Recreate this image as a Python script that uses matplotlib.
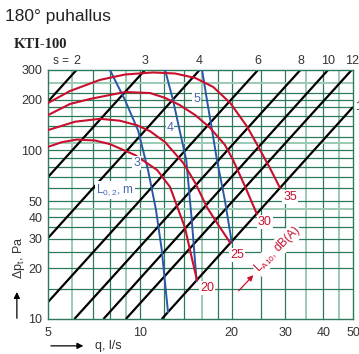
import matplotlib.pyplot as plt
from matplotlib.patches import FancyArrowPatch

plt.rcParams['font.family'] = ['Liberation Sans', 'DejaVu Sans']

# Data
# ===================================
# s lines: straight lines on log-log, given by entry / exit points
S_LABELS = ["2", "3", "4", "6", "8", "10", "12"]
S_Q0 = [5.0, 5.0, 5.0, 5.0, 6.1, 7.6, 9.0, 11.8]
S_P0 = [195, 69.5, 30.2, 12.6, 10, 10, 10, 10]
S_Q1 = [6.2, 10.4, 15.7, 24.4, 33.6, 41.4, 49.5, 50]
S_P1 = [300, 300, 300, 300, 300, 300, 300, 181]

# L_A10 sound level curves, dB(A)
LA_LABELS = ["35", "30", "25", "20"]
LA35_Q = [5.0, 5.90, 7.40, 8.94, 11.05, 13.05, 15.2, 17.4, 19.8, 22.5, 24.8, 26.7, 28.8]
LA35_P = [191, 225, 262, 282, 290, 286, 269, 238, 191, 138, 100.5, 78.6, 60]
LA30_Q = [5.0, 5.90, 6.87, 8.94, 10.8, 12.1, 13.5, 15.2, 17.0, 19.0, 20.2, 22.1, 24.2]
LA30_P = [162, 188.5, 202, 222, 219, 205, 186, 162, 136, 108, 88, 61.5, 42]
LA25_Q = [5.0, 6.13, 7.40, 8.61, 9.79, 10.8, 12.1, 13.9, 15.2, 16.6, 18.0, 19.8]
LA25_P = [132, 148, 154, 150, 141, 130, 112, 84, 64.1, 46, 36.6, 28.3]
LA20_Q = [5.0, 5.56, 6.22, 7.13, 7.98, 9.64, 11.4, 12.56, 13.2, 14.07, 14.6, 15.4]
LA20_P = [105, 112, 116, 114.5, 109, 93.9, 76.5, 60.7, 47.5, 34.7, 25.7, 17.0]

# L_0,2 throw curves, m
L3_Q = [7.98, 8.94, 9.86, 10.64, 11.3, 11.8, 12.37]
L3_P = [300, 199, 132, 76.5, 44.3, 25.7, 11.0]
L4_Q = [12.1, 12.85, 13.5, 14.2, 14.8, 15.35]
L4_P = [300, 199, 132, 87.7, 38.7, 16.8]
L5_Q = [16.0, 16.6, 17.25, 17.9, 19.0, 20.0]
L5_P = [300, 199, 132, 87.7, 50.8, 28.8]

X_TICKS = [5, 10, 20, 30, 40, 50]
Y_TICKS = [10, 20, 30, 40, 50, 100, 200, 300]
X_GRID = [6, 7, 8, 9, 10, 12, 14, 16, 18, 20, 25, 30, 35, 40, 45]
Y_GRID = [15, 20, 25, 30, 35, 40, 45, 50, 60, 70, 80, 90, 100, 110, 120,
          140, 160, 180, 200, 220, 250]
X_GRID_LIGHT = [6, 9, 16, 35, 45]
Y_GRID_LIGHT = [45, 110, 250]

RED = "#c8102e"
BLUE = "#2a58a6"
GRID_DARK = "#2d7a5a"
GRID_LIGHT = "#9ccab2"
TXT = "#333333"

fig = plt.figure(figsize=(3.59, 3.54), dpi=100)
ax = fig.add_axes([0.1337, 0.0989, 0.8496, 0.7034])
ax.set_xscale("log")
ax.set_yscale("log")
ax.set_xlim(5, 50)
ax.set_ylim(10, 300)

# Grid
for x in X_GRID:
    if x in X_GRID_LIGHT:
        ax.axvline(x, color=GRID_LIGHT, lw=1.4, zorder=1)
    else:
        ax.axvline(x, color=GRID_DARK, lw=0.9, zorder=1)
for y in Y_GRID:
    if y in Y_GRID_LIGHT:
        ax.axhline(y, color=GRID_LIGHT, lw=1.4, zorder=1)
    else:
        ax.axhline(y, color=GRID_DARK, lw=0.9, zorder=1)
for sp in ax.spines.values():
    sp.set_color(GRID_DARK)
    sp.set_linewidth(1.0)

# s lines
for q0, p0, q1, p1 in zip(S_Q0, S_P0, S_Q1, S_P1):
    ax.plot([q0, q1], [p0, p1], color="black", lw=1.6, zorder=2,
            solid_capstyle="butt")

# throw curves (blue)
for qs, ps in [(L3_Q, L3_P), (L4_Q, L4_P), (L5_Q, L5_P)]:
    ax.plot(qs, ps, color=BLUE, lw=1.4, zorder=3, solid_joinstyle="round")

# sound level curves (red)
for qs, ps in [(LA35_Q, LA35_P), (LA30_Q, LA30_P), (LA25_Q, LA25_P), (LA20_Q, LA20_P)]:
    ax.plot(qs, ps, color=RED, lw=1.5, zorder=4, solid_joinstyle="round")

# Labels on the curves
box = dict(facecolor="white", edgecolor="none", pad=0.6)
for lab, q, p in zip(LA_LABELS, [31.1, 25.7, 20.8, 16.6], [52.9, 37.6, 24.0, 15.3]):
    ax.text(q, p, lab, color=RED, fontsize=9, ha="center", va="center",
            bbox=box, zorder=6)
for lab, q, p in zip(["3", "4", "5"], [9.77, 12.56, 15.35], [84.2, 135, 201]):
    ax.text(q, p, lab, color="#4567b0", fontsize=9, ha="center", va="center",
            bbox=box, zorder=6)
ax.text(8.29, 58.2, r"$\mathregular{L_{0,2}}$, m", color="#4567b0", fontsize=8.5,
        ha="center", va="center", bbox=box, zorder=6)

ax.text(28.2, 26.0, r"$\mathregular{L_{A10}}$, dB(A)", color=RED, fontsize=8.5,
        rotation=45, rotation_mode="anchor", ha="center", va="center",
        bbox=box, zorder=6)
ax.annotate("", xy=(23.9, 18.7), xytext=(20.8, 14.3),
            arrowprops=dict(arrowstyle="-|>", color=RED, lw=0.9,
                            mutation_scale=8), zorder=7)

# s labels above the frame
trans = ax.get_xaxis_transform()
ax.text(5.52, 1.012, "s =", transform=trans, fontsize=8.5, color=TXT,
        ha="center", va="bottom")
for lab, q in zip(S_LABELS, [6.2, 10.4, 15.7, 24.4, 33.7, 41.4, 49.5]):
    ax.text(q, 1.012, lab, transform=trans, fontsize=9, color=TXT,
            ha="center", va="bottom")
ax.text(50.9, 181, "16", fontsize=9, color=TXT, ha="left", va="center",
        clip_on=False)

# Ticks
ax.set_xticks(X_TICKS)
ax.set_xticklabels([str(v) for v in X_TICKS])
ax.set_yticks(Y_TICKS)
ax.set_yticklabels([str(v) for v in Y_TICKS])
ax.minorticks_off()
ax.tick_params(length=0, labelsize=9, labelcolor=TXT)
ax.tick_params(axis="x", pad=6)
ax.tick_params(axis="y", pad=4)

# Axis titles with arrows
fig.text(0.053, 0.272, r"$\mathregular{\Delta p_t}$, Pa", rotation=90, fontsize=9,
         color=TXT, ha="center", va="center")
fig.patches.append(FancyArrowPatch(
    (0.047, 0.093), (0.047, 0.183), transform=fig.transFigure,
    arrowstyle="-|>", mutation_scale=9, color="black", lw=0.9))
fig.text(0.265, 0.023, "q, l/s", fontsize=9, color=TXT, ha="left", va="center")
fig.patches.append(FancyArrowPatch(
    (0.134, 0.023), (0.24, 0.023), transform=fig.transFigure,
    arrowstyle="-|>", mutation_scale=9, color="black", lw=0.9))

# Headings
fig.text(0.014, 0.941, "180° puhallus", fontsize=12.5, color="#222222",
         ha="left", va="baseline")
fig.text(0.039, 0.864, "KTI-100", fontsize=10.5, fontweight="bold",
         family="Liberation Serif", color="#222222", ha="left", va="baseline")

plt.savefig("out.png", dpi=100)
